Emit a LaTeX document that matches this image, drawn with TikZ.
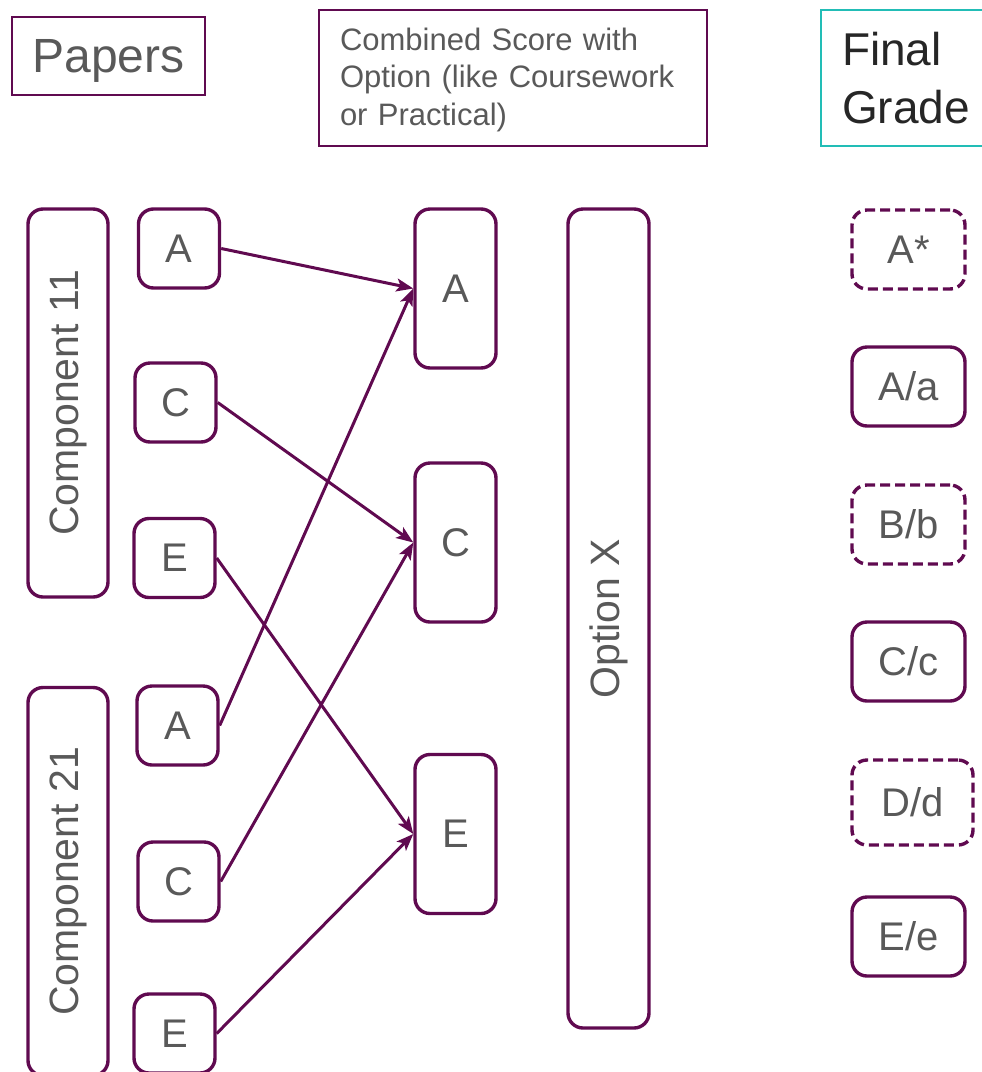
\documentclass[tikz,border=0pt]{standalone}
\usepackage{fontspec}
\setmainfont{Liberation Sans}
\usetikzlibrary{arrows.meta,positioning}
\definecolor{schemepurple}{HTML}{600A50}
\definecolor{schemeteal}{HTML}{22BDB6}
\definecolor{textgray}{HTML}{595959}
\definecolor{textdark}{HTML}{262626}
\tikzset{
  headbox/.style={draw=schemepurple,line width=1.8pt,text=textgray,inner sep=0pt},
  paperbox/.style={draw=schemepurple,line width=3.4pt,rounded corners=15pt,text=textgray,inner sep=0pt,font=\fontsize{40}{40}\selectfont},
  letterbox/.style={paperbox,minimum width=81pt,minimum height=79pt},
  scorebox/.style={paperbox,minimum width=81pt,minimum height=159pt},
  longbox/.style={paperbox,rotate=90,minimum height=80pt,font=\fontsize{41}{41}\selectfont},
  gradebox/.style={paperbox,minimum width=113pt,minimum height=79pt},
  gradeopen/.style={gradebox,dash pattern=on 10pt off 5pt},
  link/.style={-{Stealth[length=17pt,width=13pt,inset=4pt]},line width=3pt,schemepurple}
}

\begin{document}
\begin{tikzpicture}[x=1pt,y=-1pt]
  \path[use as bounding box] (0,0) rectangle (982,1072);
  \clip (0,0) rectangle (982,1072);

  % column headings
  \node[headbox,text depth=0pt,minimum width=193pt,minimum height=78pt,font=\fontsize{48}{48}\selectfont] (papers) at (108.5,56) {Papers};
  \node[headbox,minimum width=388pt,minimum height=136pt,text width=346pt,inner xsep=21pt,align=left,
        font=\fontsize{31}{37.5}\selectfont] (combined) at (513,78)
    {\rule{0pt}{26pt}Combined Score with\\Option (like Coursework\\or Practical)};
  \node[headbox,draw=schemeteal,text=textdark,minimum width=170pt,minimum height=136pt,text width=128pt,inner xsep=21pt,
        align=left,font=\fontsize{46}{58}\selectfont] (final) at (906,78) {Final\\Grade};

  % components and their papers
  \node[longbox,minimum width=388pt] (comp11) at (68,403) {Component 11};
  \node[longbox,minimum width=388pt] (comp21) at (68,881.5) {Component 21};
  \node[letterbox] (pA1) at (179,248.5) {A};
  \node[letterbox] (pC1) at (175.5,402.5) {C};
  \node[letterbox] (pE1) at (174.5,558) {E};
  \node[letterbox] (pA2) at (177.5,725.5) {A};
  \node[letterbox] (pC2) at (178.5,881.5) {C};
  \node[letterbox] (pE2) at (174.5,1033.5) {E};

  % combined scores
  \node[scorebox] (mA) at (455.5,288.5) {A};
  \node[scorebox] (mC) at (455.5,542.5) {C};
  \node[scorebox] (mE) at (455.5,834) {E};
  \node[longbox,minimum width=819pt,minimum height=81pt] (option) at (608.5,618.5) {Option X};

  % final grades
  \node[gradeopen] (gAs) at (908.5,249.5) {A*};
  \node[gradebox] (gA) at (908.5,386.5) {A/a};
  \node[gradeopen] (gB) at (908.5,524.5) {B/b};
  \node[gradebox] (gC) at (908.5,661.5) {C/c};
  \node[gradeopen,minimum width=121pt,minimum height=85pt] (gD) at (912.5,802.5) {D/d};
  \node[gradebox] (gE) at (908.5,936.5) {E/e};

  % paper grades into combined score
  \draw[link] (pA1.east) -- (mA.west);
  \draw[link] (pC1.east) -- (mC.west);
  \draw[link] (pE1.east) -- (mE.west);
  \draw[link] (pA2.east) -- (mA.west);
  \draw[link] (pC2.east) -- (mC.west);
  \draw[link] (pE2.east) -- (mE.west);
\end{tikzpicture}
\end{document}
